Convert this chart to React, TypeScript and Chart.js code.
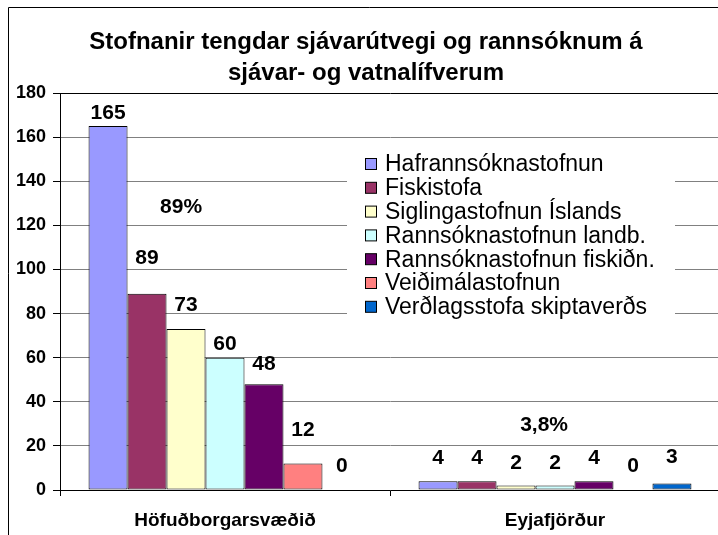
import React, { useEffect, useRef } from 'react';
import { Chart, registerables } from 'chart.js';

Chart.register(...registerables);

const categories = ['Höfuðborgarsvæðið', 'Eyjafjörður'];
const seriesNames = [
  'Hafrannsóknastofnun',
  'Fiskistofa',
  'Siglingastofnun Íslands',
  'Rannsóknastofnun landb.',
  'Rannsóknastofnun fiskiðn.',
  'Veiðimálastofnun',
  'Verðlagsstofa skiptaverðs',
];
const hafrannsokn = [165, 4];
const fiskistofa = [89, 4];
const siglingastofnun = [73, 2];
const rannsLandb = [60, 2];
const rannsFiskidn = [48, 4];
const veidimal = [12, 0];
const verdlagsstofa = [0, 3];
const seriesValues = [hafrannsokn, fiskistofa, siglingastofnun, rannsLandb, rannsFiskidn, veidimal, verdlagsstofa];
// value level (axis units) where each data label sits
const labelAt = [
  [171, 14.5],
  [105, 14.5],
  [84, 12],
  [66, 12],
  [57, 14.5],
  [27, 11],
  [11, 15],
];
const colors = ['#9999FF', '#993366', '#FFFFCC', '#CCFFFF', '#660066', '#FF8080', '#0066CC'];
const shareTexts = ['89%', '3,8%'];
const shareX = [-0.133, 0.967];
const shareY = [128, 29.5];
const yTicksMax = 180;
const yStep = 20;
const titleLines = ['Stofnanir tengdar sjávarútvegi og rannsóknum á', 'sjávar- og vatnalífverum'];

const FONT = "'Liberation Sans', Arial, sans-serif";

const decorPlugin = {
  id: 'decor',
  beforeDraw(chart: any) {
    const { ctx, width, height } = chart;
    ctx.save();
    ctx.fillStyle = '#fff';
    ctx.fillRect(0, 0, width, height);
    ctx.strokeStyle = '#000';
    ctx.lineWidth = 1;
    ctx.beginPath();
    ctx.moveTo(8.5, height);
    ctx.lineTo(8.5, 7.5);
    ctx.lineTo(width, 7.5);
    ctx.stroke();
    ctx.fillStyle = '#000';
    ctx.font = `bold 24px ${FONT}`;
    ctx.textAlign = 'center';
    ctx.textBaseline = 'alphabetic';
    titleLines.forEach((t, i) => ctx.fillText(t, 366, 49 + i * 31));
    ctx.restore();
  },
  afterDatasetsDraw(chart: any) {
    const { ctx } = chart;
    const xs = chart.scales.x;
    const ys = chart.scales.y;
    ctx.save();
    ctx.fillStyle = '#000';
    ctx.textAlign = 'center';
    ctx.textBaseline = 'middle';
    ctx.font = `bold 21px ${FONT}`;
    chart.data.datasets.forEach((ds: any, di: number) => {
      const meta = chart.getDatasetMeta(di);
      meta.data.forEach((bar: any, i: number) => {
        ctx.fillText(String(ds.data[i]), bar.x, ys.getPixelForValue(labelAt[di][i]));
      });
    });
    shareTexts.forEach((t, i) => {
      ctx.fillText(t, xs.getPixelForValue(shareX[i]), ys.getPixelForValue(shareY[i]));
    });
    // legend
    const lx = 347, ly = 150, lw = 328, lh = 172;
    ctx.fillStyle = '#fff';
    ctx.fillRect(lx, ly, lw, lh);
    ctx.font = `23px ${FONT}`;
    ctx.textAlign = 'left';
    chart.data.datasets.forEach((ds: any, di: number) => {
      const cy = 164 + di * 23.8;
      ctx.fillStyle = ds.backgroundColor;
      ctx.fillRect(365.5, cy - 5.5, 11, 11);
      ctx.strokeStyle = '#000';
      ctx.lineWidth = 1;
      ctx.strokeRect(365.5, cy - 5.5, 11, 11);
      ctx.fillStyle = '#000';
      ctx.fillText(ds.label, 385, cy + 1);
    });
    ctx.restore();
  },
};

export default function App() {
  const ref = useRef<HTMLCanvasElement | null>(null);
  useEffect(() => {
    if (!ref.current) return;
    const chart = new Chart(ref.current, {
      type: 'bar',
      data: {
        labels: categories,
        datasets: seriesNames.map((name, i) => ({
          label: name,
          data: seriesValues[i],
          backgroundColor: colors[i],
          borderColor: '#000',
          borderWidth: 1,
          borderSkipped: false,
          categoryPercentage: 0.827,
          barPercentage: 1,
        })),
      },
      options: {
        responsive: false,
        animation: false,
        devicePixelRatio: 1,
        layout: { padding: { left: 8, top: 93, right: 10, bottom: 10 } },
        plugins: { legend: { display: false }, title: { display: false }, tooltip: { enabled: false } },
        scales: {
          x: {
            afterFit: (s: any) => { s.height = 40; },
            grid: { drawOnChartArea: false, tickLength: 6, color: '#000' },
            border: { color: '#000' },
            ticks: { color: '#000', font: { family: FONT, size: 19, weight: 'bold' }, padding: 13 },
          },
          y: {
            min: 0,
            max: yTicksMax,
            afterFit: (s: any) => { s.width = 52; },
            grid: {
              color: (c: any) => (c.tick && c.tick.value === yTicksMax ? '#000' : '#808080'),
              tickColor: '#000',
              tickLength: 7,
            },
            border: { color: '#000' },
            ticks: { stepSize: yStep, color: '#000', font: { family: FONT, size: 18, weight: 'bold' }, padding: 7 },
          },
        },
      },
      plugins: [decorPlugin],
    } as any);
    return () => chart.destroy();
  }, []);
  return (
    <div style={{ position: 'fixed', left: 0, top: 0, width: 718, height: 535, overflow: 'hidden', background: '#fff' }}>
      <canvas ref={ref} width={730} height={540} style={{ display: 'block' }} />
    </div>
  );
}
